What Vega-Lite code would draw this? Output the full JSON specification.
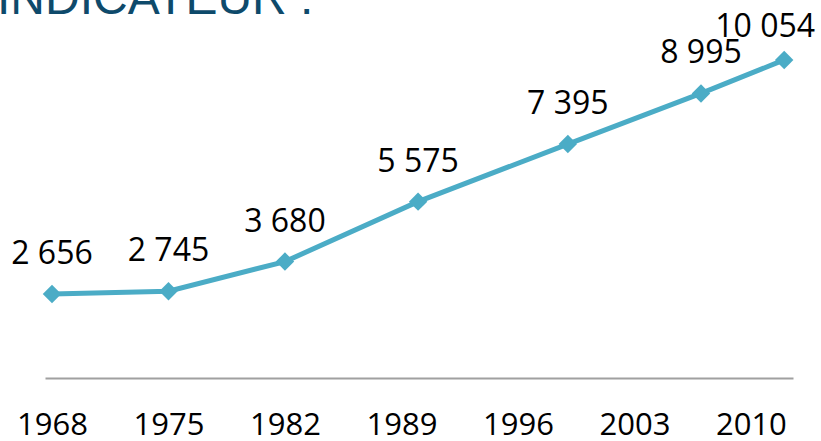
{
  "$schema": "https://vega.github.io/schema/vega-lite/v6.json",
  "autosize": {"type": "pad"},
  "width": 748,
  "height": 348,
  "padding": {"left": -3, "top": -25, "right": 0, "bottom": 0},
  "background": "white",
  "config": {"view": {"stroke": null}, "font": "Open Sans"},
  "title": {
    "text": "INDICATEUR :",
    "anchor": "start",
    "frame": "group",
    "font": "Liberation Sans",
    "fontSize": 48,
    "fontWeight": "normal",
    "color": "#0e4a6b",
    "baseline": "alphabetic",
    "offset": -51,
    "dx": -48
  },
  "data": {
    "values": [
      {"annee": 1968, "pop": 2656, "label": "2 656"},
      {"annee": 1975, "pop": 2745, "label": "2 745"},
      {"annee": 1982, "pop": 3680, "label": "3 680"},
      {"annee": 1990, "pop": 5575, "label": "5 575"},
      {"annee": 1999, "pop": 7395, "label": "7 395"},
      {"annee": 2007, "pop": 8995, "label": "8 995"},
      {"annee": 2012, "pop": 10054, "label": "10 054"}
    ]
  },
  "encoding": {
    "x": {
      "field": "annee",
      "type": "quantitative",
      "scale": {"domain": [1967.58, 2012.53], "nice": false, "zero": false},
      "axis": {
        "title": null,
        "values": [1968, 1975, 1982, 1989, 1996, 2003, 2010],
        "format": "d",
        "grid": false,
        "ticks": false,
        "tickSize": 0,
        "domainColor": "#a0a0a0",
        "domainWidth": 2,
        "labelFont": "Open Sans",
        "labelFontSize": 31,
        "labelColor": "#000000",
        "labelBaseline": "alphabetic",
        "labelPadding": 56,
        "labelFlush": false,
        "labelOverlap": false
      }
    },
    "y": {
      "field": "pop",
      "type": "quantitative",
      "scale": {"domain": [0, 11000], "nice": false},
      "axis": null
    }
  },
  "layer": [
    {"mark": {"type": "line", "color": "#4bacc6", "strokeWidth": 5}},
    {"mark": {"type": "point", "shape": "diamond", "filled": true, "size": 340, "color": "#4bacc6", "opacity": 1}},
    {
      "transform": [{"filter": "datum.annee < 2012"}],
      "mark": {"type": "text", "font": "Open Sans", "fontSize": 32, "color": "#000000", "baseline": "alphabetic", "dy": -30},
      "encoding": {"text": {"field": "label"}}
    },
    {
      "transform": [{"filter": "datum.annee == 2012"}],
      "mark": {"type": "text", "font": "Open Sans", "fontSize": 32, "color": "#000000", "baseline": "alphabetic", "dy": -23, "dx": -19},
      "encoding": {"text": {"field": "label"}}
    }
  ]
}
